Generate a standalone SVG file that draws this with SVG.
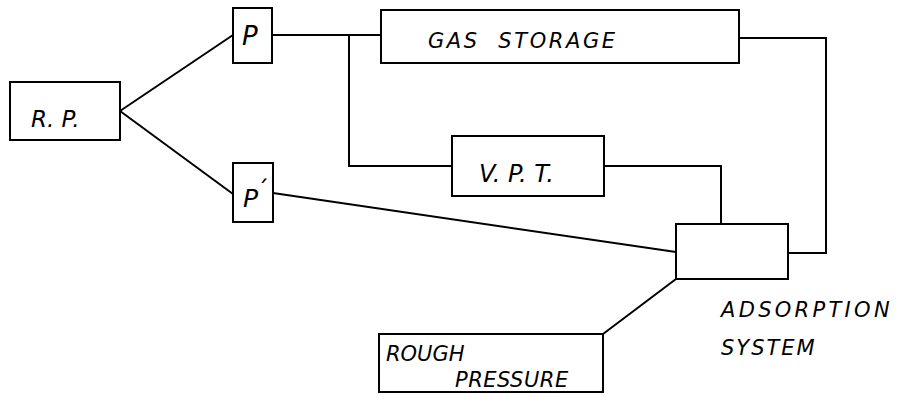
<svg xmlns="http://www.w3.org/2000/svg" width="897" height="397" viewBox="0 0 897 397">
<style>
.box{fill:#fff;stroke:#000;stroke-width:2}
.ln{fill:none;stroke:#000;stroke-width:2}
text{font-family:"DejaVu Sans","Liberation Sans",sans-serif;font-style:italic;fill:#000}
</style>
<rect width="897" height="397" fill="#fff"/>
<g id="connectors">
<path class="ln" d="M120,111 L233,35"/>
<path class="ln" d="M120,111 L233,194"/>
<path class="ln" d="M272,35 H381"/>
<path class="ln" d="M349,35 V166 H452"/>
<path class="ln" d="M739,38 H826 V253 H788"/>
<path class="ln" d="M604,166 H721 V224"/>
<path class="ln" d="M273,193 L676,252"/>
<path class="ln" d="M603,334 L676,279"/>
</g>
<g id="rp"><rect class="box" x="10" y="82" width="110" height="58"/><text x="31" y="127" font-size="23">R. P.</text></g>
<g id="p"><rect class="box" x="233" y="8" width="39" height="55"/><text x="242" y="45" font-size="26">P</text></g>
<g id="pprime"><rect class="box" x="233" y="163" width="40" height="59"/><text x="243" y="207" font-size="25">P</text><text x="257" y="198" font-size="24" style="font-style:normal">ˊ</text></g>
<g id="gas"><rect class="box" x="381" y="10" width="358" height="53"/><text x="428" y="48" font-size="21" style="letter-spacing:2.6px;white-space:pre">GAS  STORAGE</text></g>
<g id="vpt"><rect class="box" x="452" y="136" width="152" height="60"/><text x="479" y="182" font-size="24">V. P. T.</text></g>
<g id="ads"><rect class="box" x="676" y="224" width="112" height="55"/><text x="721" y="317" font-size="21" style="letter-spacing:3.3px">ADSORPTION</text><text x="721" y="355" font-size="21" style="letter-spacing:2px">SYSTEM</text></g>
<g id="rough"><rect class="box" x="379" y="334" width="224" height="58"/><text x="386" y="361" font-size="21">ROUGH</text><text x="455" y="387" font-size="21" style="letter-spacing:0.5px">PRESSURE</text></g>
</svg>
